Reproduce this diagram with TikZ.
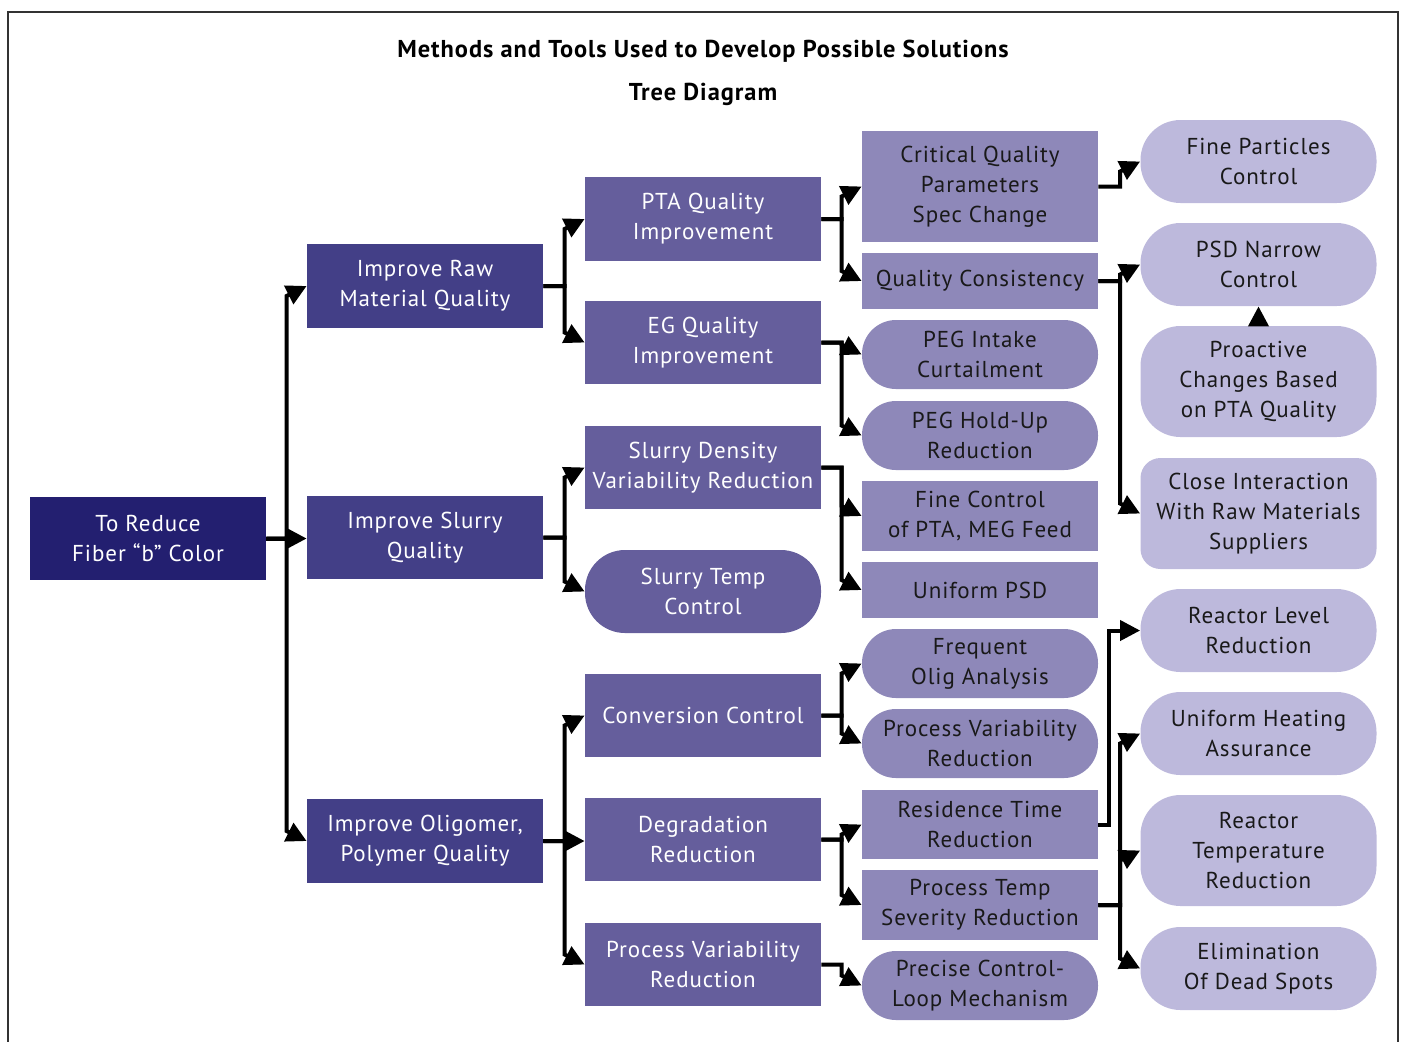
\documentclass[tikz,border=0pt]{standalone}
\usepackage{fontspec}
\setmainfont{PT Sans}[LetterSpace=4]
\usetikzlibrary{calc,arrows.meta}

\definecolor{navy}{HTML}{231F70}
\definecolor{lvlone}{HTML}{433F87}
\definecolor{lvltwo}{HTML}{655E9C}
\definecolor{lvlthree}{HTML}{8E88B9}
\definecolor{lvlfour}{HTML}{BDB9DC}

\begin{document}
\begin{tikzpicture}[x=0.5pt,y=-0.5pt,
    font=\fontsize{11.5}{15}\selectfont,
    box/.style={minimum width=118pt,minimum height=41.5pt,inner sep=0pt,align=center},
    goalbox/.style={box,fill=navy,text=white},
    onebox/.style={box,fill=lvlone,text=white},
    twobox/.style={box,fill=lvltwo,text=white},
    threebox/.style={box,fill=lvlthree,text=black!90},
    fourbox/.style={box,fill=lvlfour,text=black!90,rounded corners=20pt},
    pill/.style={rounded corners=#1},
    heading/.style={font=\bfseries\fontsize{12.2}{15}\selectfont},
    link/.style={line width=2pt,-{Triangle[length=10pt,width=10pt]}}]
  \useasboundingbox (0,0) rectangle (1403,1041);
  \draw[line width=1pt,black!80] (8,1060) -- (8,12) -- (1398,12) -- (1398,1060);

  \node[heading] (title) at (703,51) {Methods and Tools Used to Develop Possible Solutions};
  \node[heading] (subtitle) at (703,94) {Tree Diagram};

  % goal and first level
  \node[goalbox] (goal) at (148,538.5) {To Reduce\\Fiber “b” Color};
  \node[onebox,minimum height=42pt] (raw) at (425,286) {Improve Raw\\Material Quality};
  \node[onebox] (slurry) at (425,537.5) {Improve Slurry\\Quality};
  \node[onebox,minimum height=42pt] (olig) at (425,841) {Improve Oligomer,\\Polymer Quality};

  % second level
  \node[twobox,minimum height=42pt] (pta) at (703,219) {PTA Quality\\Improvement};
  \node[twobox] (eg) at (703,342.5) {EG Quality\\Improvement};
  \node[twobox] (sdens) at (703,467.5) {Slurry Density\\Variability Reduction};
  \node[twobox,pill=20pt] (stemp) at (703,591.5) {Slurry Temp\\Control};
  \node[twobox] (conv) at (703,715.5) {Conversion Control};
  \node[twobox] (degr) at (703,839.5) {Degradation\\Reduction};
  \node[twobox] (pvar) at (703,964.5) {Process Variability\\Reduction};

  % third level
  \node[threebox,minimum height=55.5pt] (crit) at (980,186.5) {Critical Quality\\Parameters\\Spec Change};
  \node[threebox,minimum height=28pt] (qcons) at (980,281) {Quality Consistency};
  \node[threebox,minimum height=34.5pt,pill=17pt] (pegin) at (980,354.5) {PEG Intake\\Curtailment};
  \node[threebox,minimum height=34.5pt,pill=17pt] (peghold) at (980,435.5) {PEG Hold-Up\\Reduction};
  \node[threebox,minimum height=35pt] (fine) at (980,516) {Fine Control\\of PTA, MEG Feed};
  \node[threebox,minimum height=28pt] (upsd) at (980,590) {Uniform PSD};
  \node[threebox,minimum height=34.5pt,pill=17pt] (freq) at (980,663.5) {Frequent\\Olig Analysis};
  \node[threebox,minimum height=34.5pt,pill=17pt] (pvr) at (980,743.5) {Process Variability\\Reduction};
  \node[threebox,minimum height=34.5pt] (resid) at (980,824.5) {Residence Time\\Reduction};
  \node[threebox,minimum height=35pt] (ptemp) at (980,905) {Process Temp\\Severity Reduction};
  \node[threebox,minimum height=34.5pt,pill=17pt] (precise) at (980,985.5) {Precise Control-\\Loop Mechanism};

  % fourth level
  \node[fourbox] (fpart) at (1258.5,161.5) {Fine Particles\\Control};
  \node[fourbox] (psdn) at (1258.5,264.5) {PSD Narrow\\Control};
  \node[fourbox,minimum height=55.5pt] (proact) at (1258.5,381.5) {Proactive\\Changes Based\\on PTA Quality};
  \node[fourbox,minimum height=55.5pt,pill=10pt] (close) at (1258.5,513.5) {Close Interaction\\With Raw Materials\\Suppliers};
  \node[fourbox] (rlevel) at (1258.5,630.5) {Reactor Level\\Reduction};
  \node[fourbox] (uheat) at (1258.5,733.5) {Uniform Heating\\Assurance};
  \node[fourbox,minimum height=55.5pt] (rtemp) at (1258.5,850.5) {Reactor\\Temperature\\Reduction};
  \node[fourbox] (elim) at (1258.5,968.5) {Elimination\\Of Dead Spots};

  % goal -> first level
  \draw[link] (goal.east) -| ($(raw.west)+(-20,10)$) -- (raw.west);
  \draw[link] (goal.east) -- (goal.east -| slurry.west);
  \draw[link] (goal.east) -| ($(olig.west)+(-20,-10)$) -- (olig.west);

  % first -> second level
  \draw[link] (raw.east) -| ($(pta.west)+(-20,10)$) -- (pta.west);
  \draw[link] (raw.east) -| ($(eg.west)+(-20,-10)$) -- (eg.west);
  \draw[link] (slurry.east) -| ($(sdens.west)+(-20,10)$) -- (sdens.west);
  \draw[link] (slurry.east) -| ($(stemp.west)+(-20,-10)$) -- (stemp.west);
  \draw[link] (olig.east) -| ($(conv.west)+(-20,10)$) -- (conv.west);
  \draw[link] (olig.east) -- (olig.east -| degr.west);
  \draw[link] (olig.east) -| ($(pvar.west)+(-20,-10)$) -- (pvar.west);

  % second -> third level
  \draw[link] (pta.east) -| ($(crit.west)+(-20,10)$) -- (crit.west);
  \draw[link] (pta.east) -| ($(qcons.west)+(-20,-10)$) -- (qcons.west);
  \draw[link] (eg.east) -| ($(pegin.west)+(-20,-10)$) -- (pegin.west);
  \draw[link] (eg.east) -| ($(peghold.west)+(-20,-10)$) -- (peghold.west);
  \draw[link] (sdens.east) -| ($(fine.west)+(-20,-10)$) -- (fine.west);
  \draw[link] (sdens.east) -| ($(upsd.west)+(-20,-10)$) -- (upsd.west);
  \draw[link] (conv.east) -| ($(freq.west)+(-20,10)$) -- (freq.west);
  \draw[link] (conv.east) -| ($(pvr.west)+(-20,-10)$) -- (pvr.west);
  \draw[link] (degr.east) -| ($(resid.west)+(-20,10)$) -- (resid.west);
  \draw[link] (degr.east) -| ($(ptemp.west)+(-20,-10)$) -- (ptemp.west);
  \draw[link] (pvar.east) -| ($(precise.west)+(-20,-10)$) -- (precise.west);

  % third -> fourth level
  \draw[link] (crit.east) -| ($(fpart.west)+(-20,10)$) -- (fpart.west);
  \draw[link] (qcons.east) -| ($(psdn.west)+(-20,10)$) -- (psdn.west);
  \draw[link] (qcons.east) -| ($(close.west)+(-20,-10)$) -- (close.west);
  \draw[link] (proact) -- (psdn);
  \draw[link] (resid.east) -| ($(rlevel.west)+(-31,0)$) -- (rlevel.west);
  \draw[link] (ptemp.east) -| ($(uheat.west)+(-20,10)$) -- (uheat.west);
  \draw[link] (ptemp.east) -| ($(rtemp.west)+(-20,10)$) -- (rtemp.west);
  \draw[link] (ptemp.east) -| ($(elim.west)+(-20,-10)$) -- (elim.west);
\end{tikzpicture}
\end{document}
